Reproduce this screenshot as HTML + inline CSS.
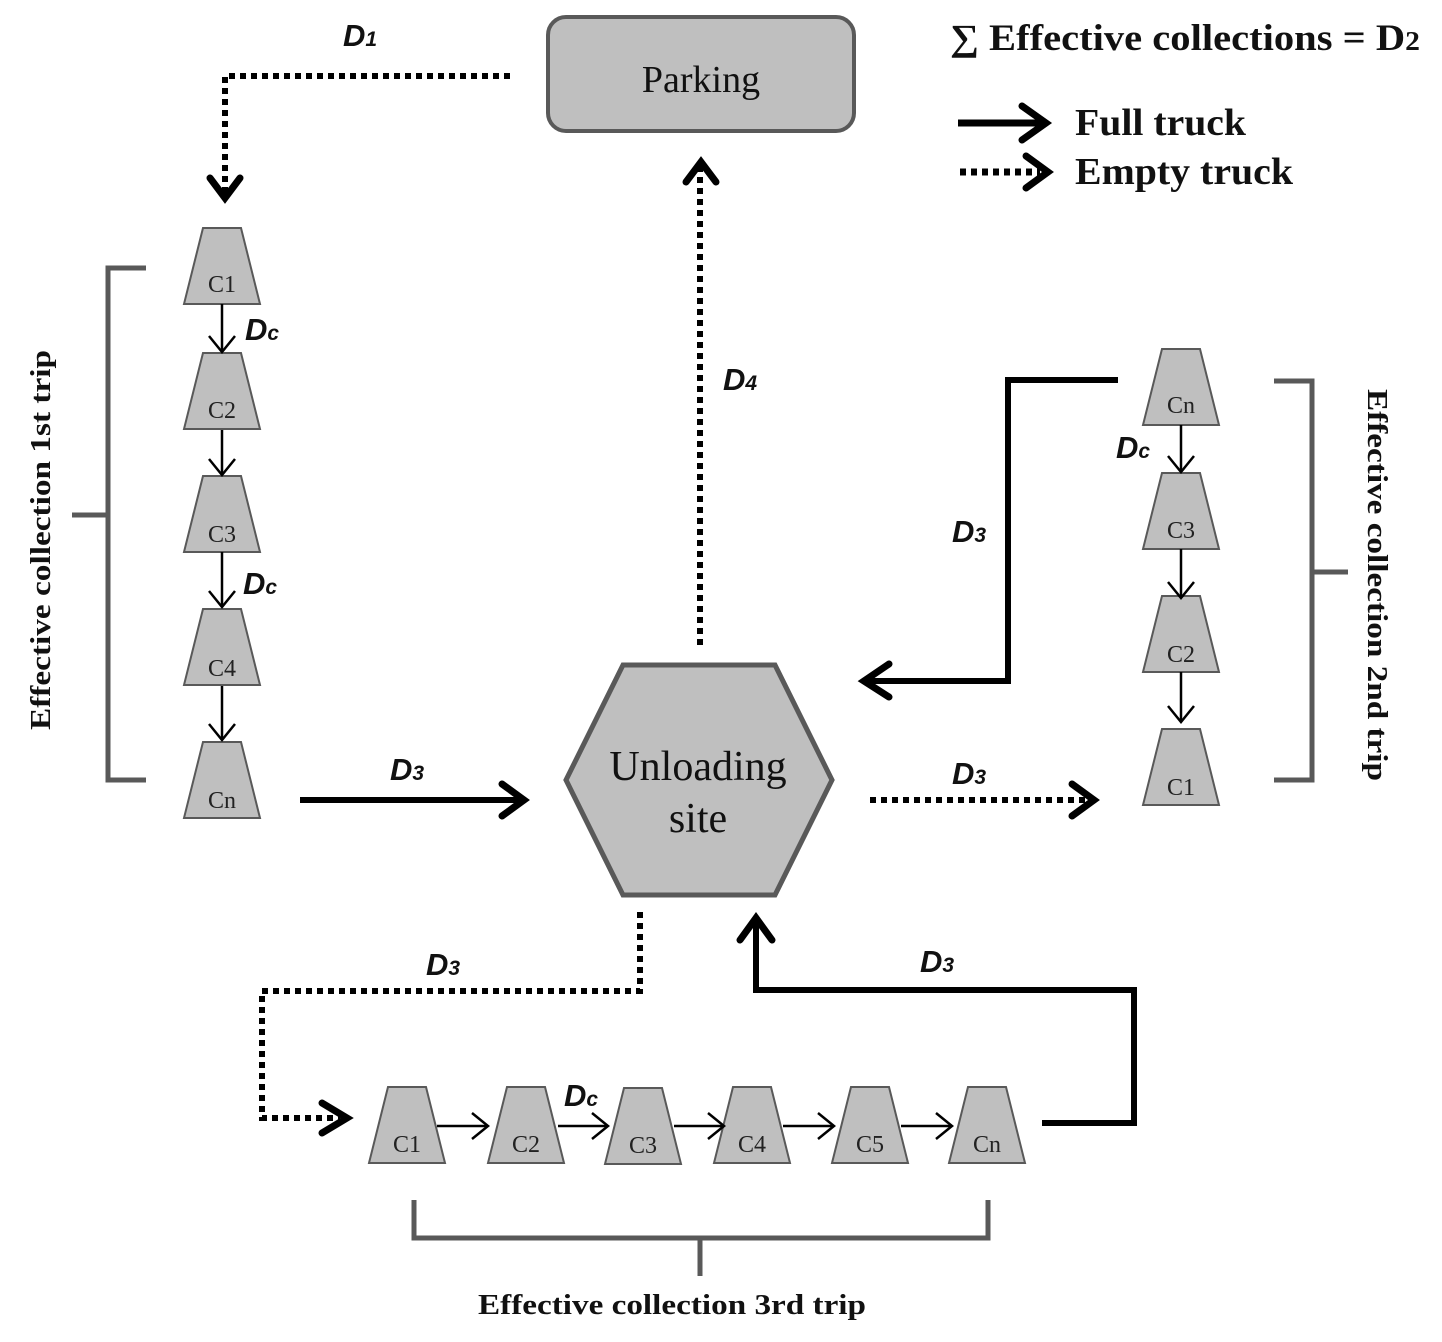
<!DOCTYPE html>
<html><head><meta charset="utf-8"><style>
html,body{margin:0;padding:0;background:#fff;}
svg{display:block;}
.lbl{font-family:"Liberation Sans",sans-serif;font-weight:bold;font-style:italic;font-size:31px;fill:#111;}
.sub{font-size:21px;}
.cn{font-family:"Liberation Serif",serif;font-size:24px;fill:#222;}
.ser{font-family:"Liberation Serif",serif;fill:#111;}
</style></head><body>
<svg width="1442" height="1342" viewBox="0 0 1442 1342" xmlns="http://www.w3.org/2000/svg">
<defs>
<symbol id="tr" overflow="visible">
<polygon points="-19,0 19,0 38,76 -38,76" fill="#bfbfbf" stroke="#595959" stroke-width="2"/>
</symbol>
</defs>

<rect x="548" y="17" width="306" height="114" rx="18" fill="#bfbfbf" stroke="#595959" stroke-width="4"/>
<text x="701" y="92" text-anchor="middle" class="ser" font-size="38">Parking</text>

<polygon points="566,780 623,665 775,665 832,780 775,895 623,895" fill="#bfbfbf" stroke="#595959" stroke-width="5"/>
<text x="698" y="780" text-anchor="middle" class="ser" font-size="42">Unloading</text>
<text x="698" y="832" text-anchor="middle" class="ser" font-size="42">site</text>

<text x="950" y="50" class="ser" font-size="37" font-weight="bold" textLength="470" lengthAdjust="spacingAndGlyphs">∑ Effective collections = D<tspan font-size="27">2</tspan></text>
<line x1="958" y1="123" x2="1042" y2="123" stroke="#000" stroke-width="7"/>
<polyline points="1022,106 1046,123 1022,140" fill="none" stroke="#000" stroke-width="7" stroke-linecap="round"/>
<text x="1075" y="135" class="ser" font-size="38" font-weight="bold" textLength="171" lengthAdjust="spacingAndGlyphs">Full truck</text>
<line x1="960" y1="172" x2="1040" y2="172" stroke="#000" stroke-width="7" stroke-dasharray="6 5"/>
<polyline points="1026,156 1048,172 1026,188" fill="none" stroke="#000" stroke-width="7" stroke-linecap="round"/>
<text x="1075" y="184" class="ser" font-size="38" font-weight="bold" textLength="218" lengthAdjust="spacingAndGlyphs">Empty truck</text>

<polyline points="510,76 225,76 225,194" fill="none" stroke="#000" stroke-width="6" stroke-dasharray="6 5"/>
<polyline points="210,178 225,198 240,178" fill="none" stroke="#000" stroke-width="7" stroke-linecap="round"/>
<text x="343" y="46" class="lbl">D<tspan class="sub">1</tspan></text>

<line x1="700" y1="645" x2="700" y2="165" stroke="#000" stroke-width="6" stroke-dasharray="6 5"/>
<polyline points="686,182 701,162 716,182" fill="none" stroke="#000" stroke-width="7" stroke-linecap="round"/>
<text x="723" y="390" class="lbl">D<tspan class="sub">4</tspan></text>

<use href="#tr" x="222" y="228"/><text x="222" y="292" text-anchor="middle" class="cn">C1</text>
<use href="#tr" x="222" y="353"/><text x="222" y="418" text-anchor="middle" class="cn">C2</text>
<use href="#tr" x="222" y="476"/><text x="222" y="542" text-anchor="middle" class="cn">C3</text>
<use href="#tr" x="222" y="609"/><text x="222" y="676" text-anchor="middle" class="cn">C4</text>
<use href="#tr" x="222" y="742"/><text x="222" y="808" text-anchor="middle" class="cn">Cn</text>
<g stroke="#000" stroke-width="2.5" fill="none">
<line x1="222" y1="304" x2="222" y2="352"/><polyline points="209,336 222,352 235,336"/>
<line x1="222" y1="430" x2="222" y2="475"/><polyline points="209,459 222,475 235,459"/>
<line x1="222" y1="552" x2="222" y2="607"/><polyline points="209,591 222,607 235,591"/>
<line x1="222" y1="686" x2="222" y2="740"/><polyline points="209,724 222,740 235,724"/>
</g>
<text x="245" y="340" class="lbl">D<tspan class="sub">c</tspan></text>
<text x="243" y="594" class="lbl">D<tspan class="sub">c</tspan></text>
<polyline points="146,268 108,268 108,780 146,780" fill="none" stroke="#595959" stroke-width="5"/>
<line x1="72" y1="515" x2="108" y2="515" stroke="#595959" stroke-width="5"/>
<text transform="translate(50,540) rotate(-90)" text-anchor="middle" class="ser" font-size="28" font-weight="bold" textLength="380" lengthAdjust="spacingAndGlyphs">Effective collection 1st trip</text>

<line x1="300" y1="800" x2="522" y2="800" stroke="#000" stroke-width="6"/>
<polyline points="502,784 524,800 502,816" fill="none" stroke="#000" stroke-width="7" stroke-linecap="round"/>
<text x="390" y="780" class="lbl">D<tspan class="sub">3</tspan></text>

<line x1="870" y1="800" x2="1090" y2="800" stroke="#000" stroke-width="6" stroke-dasharray="6 5"/>
<polyline points="1072,784 1094,800 1072,816" fill="none" stroke="#000" stroke-width="7" stroke-linecap="round"/>
<text x="952" y="784" class="lbl">D<tspan class="sub">3</tspan></text>

<use href="#tr" x="1181" y="349"/><text x="1181" y="413" text-anchor="middle" class="cn">Cn</text>
<use href="#tr" x="1181" y="473"/><text x="1181" y="538" text-anchor="middle" class="cn">C3</text>
<use href="#tr" x="1181" y="596"/><text x="1181" y="662" text-anchor="middle" class="cn">C2</text>
<use href="#tr" x="1181" y="729"/><text x="1181" y="795" text-anchor="middle" class="cn">C1</text>
<g stroke="#000" stroke-width="2.5" fill="none">
<line x1="1181" y1="425" x2="1181" y2="472"/><polyline points="1168,456 1181,472 1194,456"/>
<line x1="1181" y1="549" x2="1181" y2="598"/><polyline points="1168,582 1181,598 1194,582"/>
<line x1="1181" y1="672" x2="1181" y2="722"/><polyline points="1168,706 1181,722 1194,706"/>
</g>
<text x="1116" y="458" class="lbl">D<tspan class="sub">c</tspan></text>
<polyline points="1274,381 1312,381 1312,780 1274,780" fill="none" stroke="#595959" stroke-width="5"/>
<line x1="1312" y1="572" x2="1348" y2="572" stroke="#595959" stroke-width="5"/>
<text transform="translate(1368,585) rotate(90)" text-anchor="middle" class="ser" font-size="28" font-weight="bold" textLength="392" lengthAdjust="spacingAndGlyphs">Effective collection 2nd trip</text>

<polyline points="1118,380 1008,380 1008,681 866,681" fill="none" stroke="#000" stroke-width="6"/>
<polyline points="889,664 864,681 889,697" fill="none" stroke="#000" stroke-width="7" stroke-linecap="round"/>
<text x="952" y="542" class="lbl">D<tspan class="sub">3</tspan></text>

<polyline points="640,912 640,991 262,991 262,1118 340,1118" fill="none" stroke="#000" stroke-width="6" stroke-dasharray="6 5"/>
<polyline points="322,1103 347,1118 322,1133" fill="none" stroke="#000" stroke-width="7" stroke-linecap="round"/>
<text x="426" y="975" class="lbl">D<tspan class="sub">3</tspan></text>

<use href="#tr" x="407" y="1087"/><text x="407" y="1152" text-anchor="middle" class="cn">C1</text>
<use href="#tr" x="526" y="1087"/><text x="526" y="1152" text-anchor="middle" class="cn">C2</text>
<use href="#tr" x="643" y="1088"/><text x="643" y="1153" text-anchor="middle" class="cn">C3</text>
<use href="#tr" x="752" y="1087"/><text x="752" y="1152" text-anchor="middle" class="cn">C4</text>
<use href="#tr" x="870" y="1087"/><text x="870" y="1152" text-anchor="middle" class="cn">C5</text>
<use href="#tr" x="987" y="1087"/><text x="987" y="1152" text-anchor="middle" class="cn">Cn</text>
<g stroke="#000" stroke-width="2.5" fill="none">
<line x1="437" y1="1126" x2="488" y2="1126"/><polyline points="472,1113 488,1126 472,1139"/>
<line x1="558" y1="1126" x2="608" y2="1126"/><polyline points="592,1113 608,1126 592,1139"/>
<line x1="674" y1="1126" x2="724" y2="1126"/><polyline points="708,1113 724,1126 708,1139"/>
<line x1="783" y1="1126" x2="834" y2="1126"/><polyline points="818,1113 834,1126 818,1139"/>
<line x1="901" y1="1126" x2="952" y2="1126"/><polyline points="936,1113 952,1126 936,1139"/>
</g>
<text x="564" y="1106" class="lbl">D<tspan class="sub">c</tspan></text>

<polyline points="1042,1123 1134,1123 1134,990 756,990 756,920" fill="none" stroke="#000" stroke-width="6"/>
<polyline points="740,940 756,918 772,940" fill="none" stroke="#000" stroke-width="7" stroke-linecap="round"/>
<text x="920" y="972" class="lbl">D<tspan class="sub">3</tspan></text>

<polyline points="414,1200 414,1238 988,1238 988,1200" fill="none" stroke="#595959" stroke-width="5"/>
<line x1="700" y1="1238" x2="700" y2="1276" stroke="#595959" stroke-width="5"/>
<text x="672" y="1314" text-anchor="middle" class="ser" font-size="28" font-weight="bold" textLength="388" lengthAdjust="spacingAndGlyphs">Effective collection 3rd trip</text>
</svg>
</body></html>
